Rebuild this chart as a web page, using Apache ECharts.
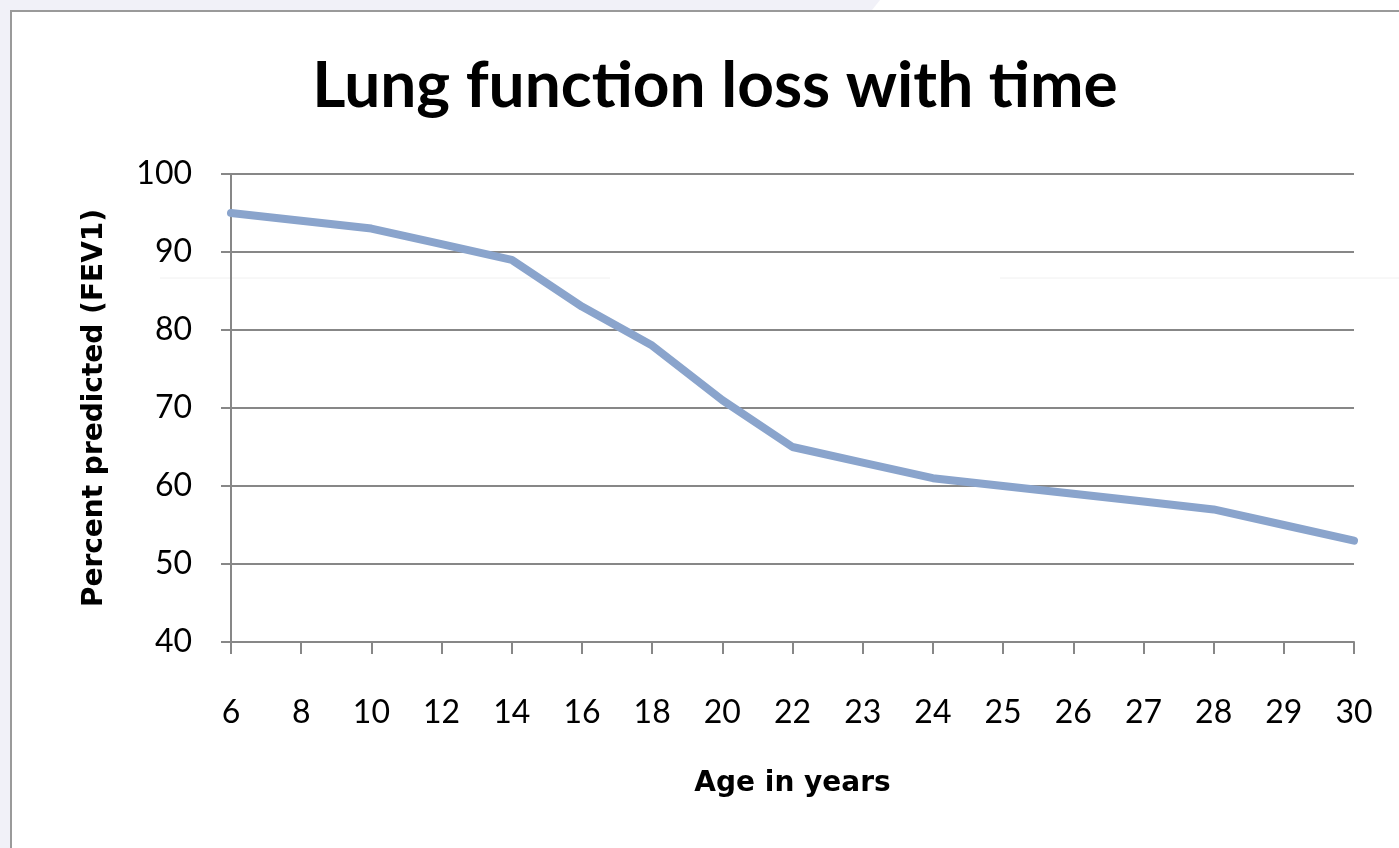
<!DOCTYPE html>
<html>
<head>
<meta charset="utf-8">
<script src="https://cdn.jsdelivr.net/npm/echarts@6/dist/echarts.min.js"></script>
<style>
html,body{margin:0;padding:0;background:#fff;}
#chart{width:1399px;height:848px;}
</style>
</head>
<body>
<div id="chart"></div>
<script>
const titleText = 'Lung function loss with time';
const xAxisTitle = 'Age in years';
const yAxisTitle = 'Percent predicted (FEV1)';
const ages = ['6','8','10','12','14','16','18','20','22','23','24','25','26','27','28','29','30'];
const fev1 = [95, 94, 93, 91, 89, 83, 78, 71, 65, 63, 61, 60, 59, 58, 57, 55, 53];
const yMin = 40, yMax = 100, yStep = 10;

const chart = echarts.init(document.getElementById('chart'), null, {renderer:'canvas'});
const gridColor = '#878787';
chart.setOption({
  backgroundColor: '#ffffff',
  animation: false,
  title: {
    text: titleText,
    left: 710,
    top: 49,
    textAlign: 'center',
    textStyle: {fontFamily: 'Lato', fontWeight: 'bold', fontSize: 64, color: '#000'}
  },
  graphic: [
    {type:'polygon', silent:true, z:-10, shape:{points:[[0,0],[880,0],[872,10],[10,10],[10,848],[0,848]]}, style:{fill:'#f1f1f8'}},
    {type:'rect', silent:true, z:-5, shape:{x:11, y:11, width:1400, height:860}, style:{fill:'none', stroke:'#9a9a9a', lineWidth:2}},
    {type:'line', silent:true, z:-4, shape:{x1:160,y1:278,x2:610,y2:278}, style:{stroke:'#f0f0f0', lineWidth:1}},
    {type:'line', silent:true, z:-4, shape:{x1:1000,y1:278,x2:1399,y2:278}, style:{stroke:'#f0f0f0', lineWidth:1}}
  ],
  grid: {left: 231, right: 45, top: 174, bottom: 206, containLabel: false},
  xAxis: {
    type: 'category',
    data: ages,
    boundaryGap: false,
    name: xAxisTitle,
    nameLocation: 'middle',
    nameGap: 128,
    nameTextStyle: {fontFamily: 'DejaVu Sans', fontWeight: 'bold', fontSize: 28, color: '#000'},
    axisLine: {show: true, lineStyle: {color: gridColor, width: 2}},
    axisTick: {show: true, alignWithLabel: true, length: 12, lineStyle: {color: gridColor, width: 2}},
    axisLabel: {margin: 55, fontFamily: 'Lato', fontSize: 32, color: '#000', interval: 0},
    splitLine: {show: false}
  },
  yAxis: {
    type: 'value',
    min: yMin, max: yMax, interval: yStep,
    name: yAxisTitle,
    nameLocation: 'middle',
    nameGap: 122,
    nameTextStyle: {fontFamily: 'DejaVu Sans', fontWeight: 'bold', fontSize: 28, color: '#000'},
    axisLine: {show: true, lineStyle: {color: gridColor, width: 2}},
    axisTick: {show: true, length: 10, lineStyle: {color: gridColor, width: 2}},
    axisLabel: {margin: 39, fontFamily: 'Lato', fontSize: 32, color: '#000'},
    splitLine: {show: true, lineStyle: {color: gridColor, width: 2}}
  },
  series: [{
    type: 'line',
    data: fev1,
    symbol: 'none',
    lineStyle: {color: '#8aa4cc', width: 8, cap: 'round', join: 'round'},
    itemStyle: {color: '#8aa4cc'}
  }]
});
</script>
</body>
</html>
